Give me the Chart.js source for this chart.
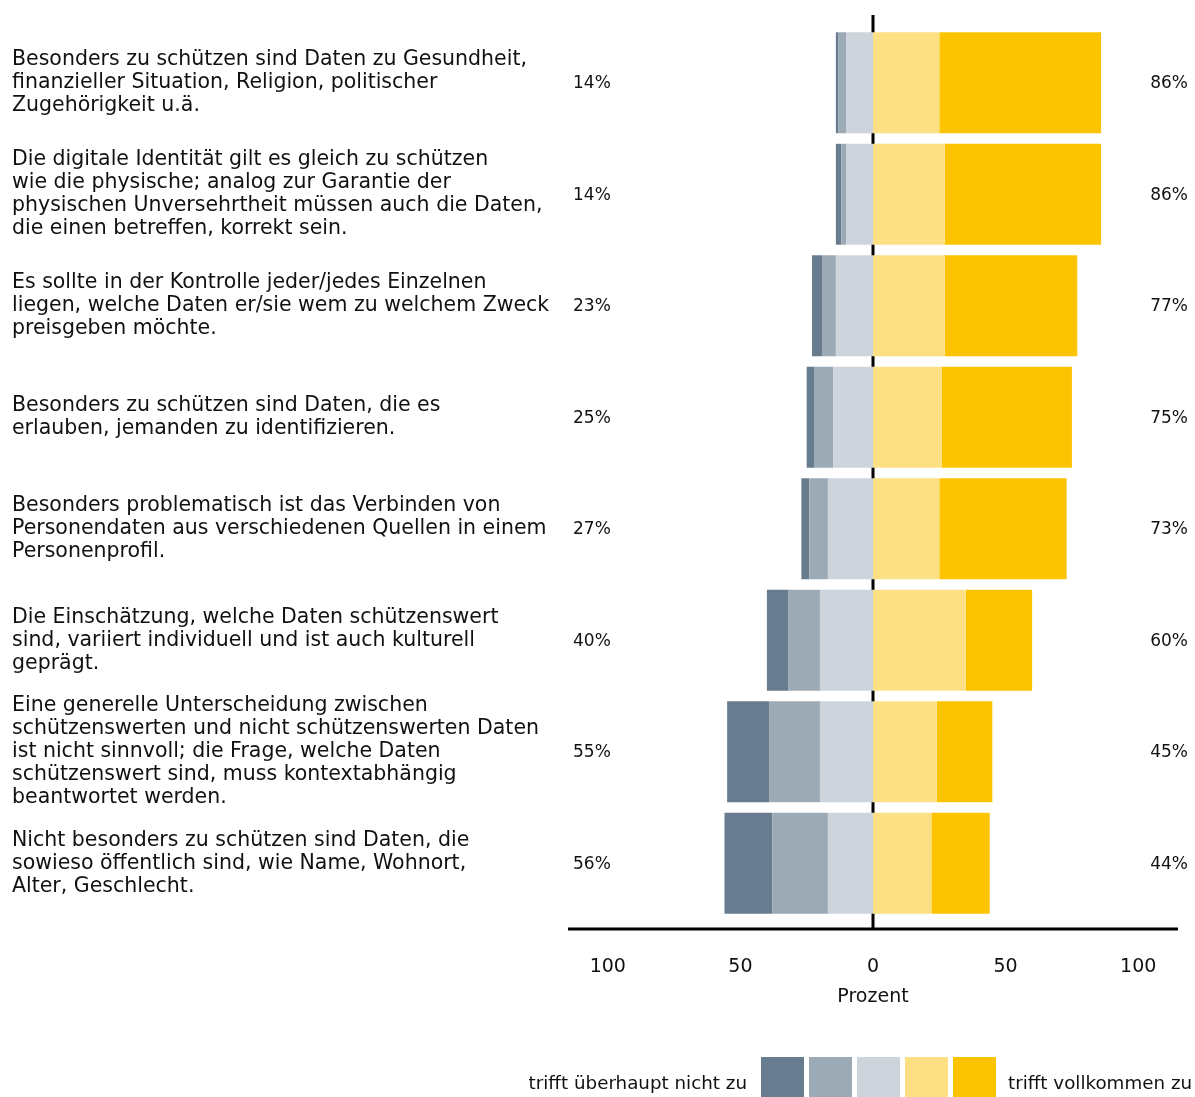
<!DOCTYPE html>
<html>
<head>
<meta charset="utf-8">
<script src="https://cdn.jsdelivr.net/npm/chart.js@4.4.1/dist/chart.umd.min.js"></script>
<style>
  html, body { margin: 0; padding: 0; background: #fff; }
  #wrap { width: 1195px; height: 1097px; }
</style>
</head>
<body>
<div id="wrap"><canvas id="chart" width="1195" height="1097"></canvas></div>
<script>
// Aussagen (Kategorien)
const statements = [
  ["Besonders zu schützen sind Daten zu Gesundheit,", "finanzieller Situation, Religion, politischer", "Zugehörigkeit u.ä."],
  ["Die digitale Identität gilt es gleich zu schützen", "wie die physische; analog zur Garantie der", "physischen Unversehrtheit müssen auch die Daten,", "die einen betreffen, korrekt sein."],
  ["Es sollte in der Kontrolle jeder/jedes Einzelnen", "liegen, welche Daten er/sie wem zu welchem Zweck", "preisgeben möchte."],
  ["Besonders zu schützen sind Daten, die es", "erlauben, jemanden zu identifizieren."],
  ["Besonders problematisch ist das Verbinden von", "Personendaten aus verschiedenen Quellen in einem", "Personenprofil."],
  ["Die Einschätzung, welche Daten schützenswert", "sind, variiert individuell und ist auch kulturell", "geprägt."],
  ["Eine generelle Unterscheidung zwischen", "schützenswerten und nicht schützenswerten Daten", "ist nicht sinnvoll; die Frage, welche Daten", "schützenswert sind, muss kontextabhängig", "beantwortet werden."],
  ["Nicht besonders zu schützen sind Daten, die", "sowieso öffentlich sind, wie Name, Wohnort,", "Alter, Geschlecht."]
];

// Anteile in Prozent, von "trifft überhaupt nicht zu" bis "trifft vollkommen zu"
const gar_nicht   = [1, 2, 4, 3, 3, 8, 16, 18];
const eher_nicht  = [3, 2, 5, 7, 7, 12, 19, 21];
const wenig       = [10, 10, 14, 15, 17, 20, 20, 17];
const eher        = [25, 27, 27, 26, 25, 35, 24, 22];
const vollkommen  = [61, 59, 50, 49, 48, 25, 21, 22];

const xTicks = [-100, -50, 0, 50, 100];
const legendLeft = "trifft überhaupt nicht zu";
const legendRight = "trifft vollkommen zu";

const COLORS = ["#687c90", "#9caab6", "#cdd4dc", "#fce083", "#fcc400"];
const FONT = "'DejaVu Sans', sans-serif";

const sumLeft  = statements.map((_, i) => gar_nicht[i] + eher_nicht[i] + wenig[i]);
const sumRight = statements.map((_, i) => eher[i] + vollkommen[i]);

// negative Seite: die Stapel wachsen von 0 nach aussen
const datasets = [
  { label: "wenig",      data: wenig.map(v => -v),      backgroundColor: COLORS[2] },
  { label: "eher nicht", data: eher_nicht.map(v => -v), backgroundColor: COLORS[1] },
  { label: "gar nicht",  data: gar_nicht.map(v => -v),  backgroundColor: COLORS[0] },
  { label: "eher",       data: eher,                    backgroundColor: COLORS[3] },
  { label: "vollkommen", data: vollkommen,              backgroundColor: COLORS[4] }
].map(d => ({ ...d, borderWidth: 0, barPercentage: 0.905, categoryPercentage: 1 }));

// Null-Linie, Achse, Summen und Legende
const extras = {
  id: "extras",
  beforeDatasetsDraw(chart) {
    const { ctx, chartArea, scales } = chart;
    const x0 = scales.x.getPixelForValue(0);
    ctx.save();
    ctx.strokeStyle = "#000";
    ctx.lineWidth = 3;
    ctx.beginPath();
    ctx.moveTo(x0, 15);
    ctx.lineTo(x0, chartArea.bottom + 11);
    ctx.stroke();
    ctx.beginPath();
    ctx.moveTo(chartArea.left, chartArea.bottom + 10);
    ctx.lineTo(chartArea.right, chartArea.bottom + 10);
    ctx.stroke();
    ctx.restore();
  },
  afterDatasetsDraw(chart) {
    const { ctx, chartArea, scales } = chart;
    ctx.save();
    ctx.font = "17px " + FONT;
    ctx.fillStyle = "#111";
    ctx.textBaseline = "middle";
    statements.forEach((_, i) => {
      const y = scales.y.getPixelForValue(i) + 1;
      ctx.textAlign = "left";
      ctx.fillText(sumLeft[i] + "%", chartArea.left + 5, y);
      ctx.textAlign = "right";
      ctx.fillText(sumRight[i] + "%", chartArea.right + 10, y);
    });

    // Legende unten
    const sw = 43, sh = 40, gap = 5, startX = 761, top = 1057;
    COLORS.forEach((c, k) => {
      ctx.fillStyle = c;
      ctx.fillRect(startX + k * (sw + gap), top, sw, sh);
    });
    ctx.fillStyle = "#111";
    ctx.font = "18.3px " + FONT;
    ctx.textAlign = "right";
    ctx.fillText(legendLeft, startX - 14, top + sh / 2 + 7);
    ctx.textAlign = "left";
    ctx.fillText(legendRight, startX + 5 * (sw + gap) + 7, top + sh / 2 + 7);
    ctx.restore();
  }
};

new Chart(document.getElementById("chart"), {
  type: "bar",
  data: { labels: statements, datasets },
  plugins: [extras],
  options: {
    indexAxis: "y",
    responsive: false,
    animation: false,
    layout: { padding: { left: 12, right: 17, top: 27, bottom: 89 } },
    plugins: { legend: { display: false }, tooltip: { enabled: false } },
    scales: {
      x: {
        stacked: true,
        min: -115,
        max: 115,
        afterBuildTicks(scale) { scale.ticks = xTicks.map(v => ({ value: v })); },
        afterFit(scale) { scale.height = 89; scale.paddingLeft = 0; scale.paddingRight = 0; },
        grid: { display: false },
        border: { display: false },
        ticks: {
          padding: 29,
          color: "#111",
          font: { family: FONT, size: 19 },
          callback: v => String(Math.abs(v))
        },
        title: {
          display: true,
          text: "Prozent",
          color: "#111",
          font: { family: FONT, size: 19 },
          padding: 0
        }
      },
      y: {
        stacked: true,
        afterFit(scale) { scale.width = 556; scale.paddingTop = 0; scale.paddingBottom = 0; },
        grid: { display: false },
        border: { display: false },
        ticks: {
          autoSkip: false,
          crossAlign: "far",
          color: "#111",
          font: { family: FONT, size: 20.5, lineHeight: 1.122 }
        }
      }
    }
  }
});
</script>
</body>
</html>
